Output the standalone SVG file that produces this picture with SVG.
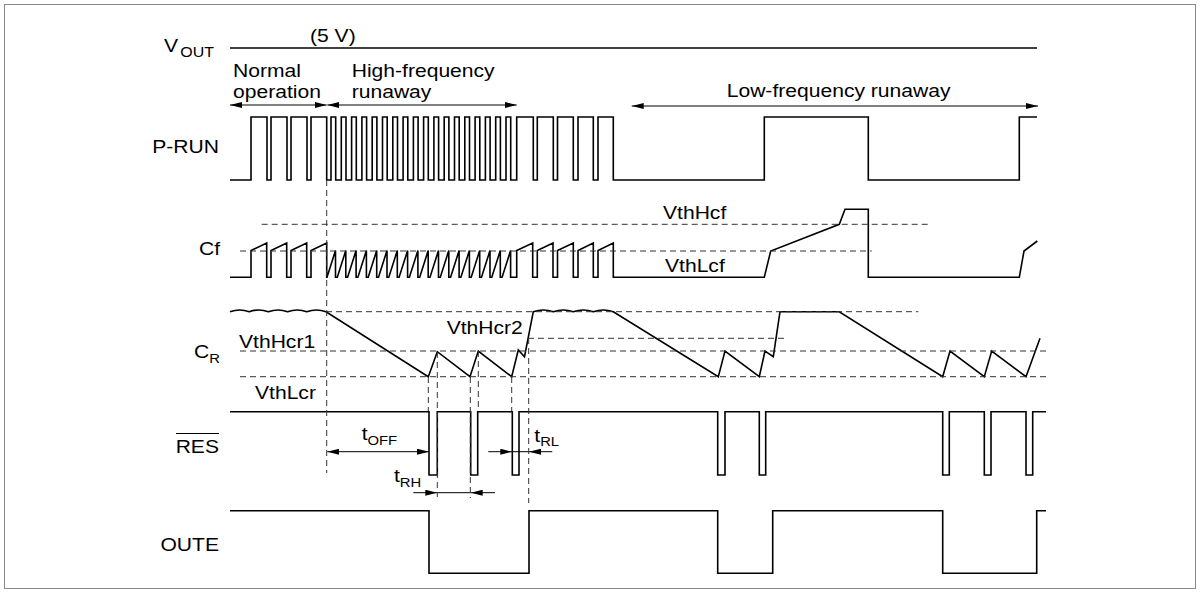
<svg xmlns="http://www.w3.org/2000/svg" width="1200" height="593" viewBox="0 0 1200 593">
<style>
.w{fill:none;stroke:#000;stroke-width:1.6;stroke-linejoin:miter}
.d{fill:none;stroke:#333;stroke-width:1;stroke-dasharray:6 4}
.a{fill:none;stroke:#000;stroke-width:1}
.t{font-family:"Liberation Sans",Arial,Helvetica,sans-serif;font-size:18.5px;fill:#000}
.s{font-size:13px}
</style>
<defs>
<marker id="ah" viewBox="0 0 12 6" refX="12" refY="3" markerWidth="12" markerHeight="6" markerUnits="userSpaceOnUse" orient="auto-start-reverse">
<path d="M0,0 L12,3 L0,6 z" fill="#000"/>
</marker>
</defs>
<rect x="4.5" y="4.5" width="1191" height="584" fill="#fff" stroke="#888" stroke-width="1"/>

<g id="vout">
<text class="t" transform="translate(164,52) scale(1.14,1)">V<tspan style="font-size:14px" dx="2" dy="5">OUT</tspan></text>
<text class="t" transform="translate(310,42) scale(1.14,1)">(5 V)</text>
<path class="w" d="M230,48 H1037"/>
</g>

<g id="phases">
<text class="t" transform="translate(233,77) scale(1.14,1)">Normal</text>
<text class="t" transform="translate(233,97.5) scale(1.14,1)">operation</text>
<text class="t" transform="translate(351.7,77) scale(1.14,1)">High-frequency</text>
<text class="t" transform="translate(351.7,97.5) scale(1.14,1)">runaway</text>
<text class="t" transform="translate(726.7,96.7) scale(1.14,1)">Low-frequency runaway</text>
</g>

<g id="prun">
<text class="t" text-anchor="end" transform="translate(219,153.3) scale(1.14,1)">P-RUN</text>
<path class="w" d="M230,180 H251 V117 H267 V180 H271 V117 H287 V180 H291 V117 H307 V180 H311 V117 H326.7 V180 H331 V117 H335.7 V180 H341.3 V117 H346 V180 H351.6 V117 H356.3 V180 H361.9 V117 H366.6 V180 H372.2 V117 H376.9 V180 H382.5 V117 H387.2 V180 H392.8 V117 H397.5 V180 H403.1 V117 H407.8 V180 H413.4 V117 H418.1 V180 H423.6 V117 H428.3 V180 H433.9 V117 H438.6 V180 H444.2 V117 H448.9 V180 H454.5 V117 H459.2 V180 H464.8 V117 H469.5 V180 H475.1 V117 H479.8 V180 H485.4 V117 H490.1 V180 H495.7 V117 H500.4 V180 H506 V117 H510.7 V180 H516.7 V117 H533.3 V180 H537.3 V117 H553.3 V180 H557.5 V117 H573.3 V180 H578 V117 H593.3 V180 H598 V117 H613.3 V180 H764.3 V117 H868.3 V180 H1019.3 V117 H1037"/>
</g>

<g id="cf">
<text class="t" text-anchor="end" transform="translate(220,255) scale(1.14,1)">Cf</text>
<text class="t" transform="translate(663,219) scale(1.14,1)">VthHcf</text>
<text class="t" transform="translate(665,271.7) scale(1.14,1)">VthLcf</text>
<path class="w" d="M230,277.3 H251 V250.5 L266.7,243 V277.3 H271 V250.5 L286.7,243 V277.3 H291 V250.5 L306.7,243 V277.3 H311 V250.5 L326.7,243 V277.3 H327 L335.5,250.5 V277.3 H337.3 L345.8,250.5 V277.3 H347.6 L356.1,250.5 V277.3 H357.9 L366.4,250.5 V277.3 H368.2 L376.7,250.5 V277.3 H378.5 L387,250.5 V277.3 H388.8 L397.3,250.5 V277.3 H399.1 L407.6,250.5 V277.3 H409.4 L417.9,250.5 V277.3 H419.7 L428.2,250.5 V277.3 H430 L438.5,250.5 V277.3 H440.3 L448.8,250.5 V277.3 H450.6 L459.1,250.5 V277.3 H460.9 L469.4,250.5 V277.3 H471.2 L479.7,250.5 V277.3 H481.5 L490,250.5 V277.3 H491.8 L500.3,250.5 V277.3 H502.1 L510.6,250.5 V277.3 H516.7 V250.5 L532.7,243 V277.3 H537.3 V250.5 L553,243 V277.3 H557.5 V250.5 L573.3,243 V277.3 H578 V250.5 L593.3,243 V277.3 H598 V250.5 L613.3,243 V277.3 H764.3 L770.7,251 L839.3,224.3 L845,209.3 H868.3 V277.3 H1019.3 L1024,251 L1037.3,241"/>
</g>

<g id="cr">
<text class="t" text-anchor="end" transform="translate(220,358) scale(1.14,1)">C<tspan class="s" dy="5">R</tspan></text>
<text class="t" transform="translate(239,347.7) scale(1.14,1)">VthHcr1</text>
<text class="t" transform="translate(446.7,334.3) scale(1.14,1)">VthHcr2</text>
<text class="t" transform="translate(255,399) scale(1.14,1)">VthLcr</text>
<path class="w" d="M230,311.7 q9.6,-3.5 19.2,0 q9.6,-3.5 19.2,0 q9.6,-3.5 19.2,0 q9.6,-3.5 19.2,0 q9.6,-3.5 19.2,0 L428.3,376.7 L437.3,351.7 L470,376.7 L478.3,351 L511.7,376.7 L518.3,350 L524.5,356.7 L533.3,311.7 q10,-3.5 20,0 q10,-3.5 20,0 q10,-3.5 20,0 q10,-3.5 20,0 L718.3,376.7 L725,351 L759.3,376.7 L765,351 L773.3,356.7 L780,311.7 H839.3 L942.7,376.7 L950,351 L984.3,376.7 L991.7,351 L1026,376.7 L1040,338.3"/>
</g>

<g id="res">
<text class="t" text-anchor="end" transform="translate(219,452.7) scale(1.14,1)">RES</text>
<path class="a" d="M176,433.5 H219"/>
<path class="w" d="M230,411.7 H429 V475 H437.3 V411.7 H470.7 V475 H477.7 V411.7 H512.3 V475 H519 V411.7 H717.7 V475 H725 V411.7 H759.3 V475 H765.7 V411.7 H942.7 V475 H949.3 V411.7 H984.3 V475 H991 V411.7 H1026 V475 H1032.7 V411.7 H1046"/>
</g>

<g id="oute">
<text class="t" text-anchor="end" transform="translate(219,550.7) scale(1.14,1)">OUTE</text>
<path class="w" d="M230,510.7 H429 V573.3 H529 V510.7 H717.7 V573.3 H772.7 V510.7 H942.7 V573.3 H1036.7 V510.7 H1046"/>
</g>

<g id="timing-labels">
<text class="t" transform="translate(361.7,440) scale(1.14,1)">t<tspan class="s" dy="5">OFF</tspan></text>
<text class="t" transform="translate(394,481.7) scale(1.14,1)">t<tspan class="s" dy="5">RH</tspan></text>
<text class="t" transform="translate(534.3,441.7) scale(1.14,1)">t<tspan class="s" dy="4">RL</tspan></text>
</g>

<g id="connectors">
<path class="a" d="M230,105 H326.7" marker-start="url(#ah)" marker-end="url(#ah)"/>
<path class="a" d="M327.3,105 H516.7" marker-start="url(#ah)" marker-end="url(#ah)"/>
<path class="a" d="M631.7,106 H1038" marker-start="url(#ah)" marker-end="url(#ah)"/>
<path class="a" d="M327.3,451.7 H429" marker-start="url(#ah)" marker-end="url(#ah)"/>
<path class="a" d="M413.3,492.7 H437.3" marker-end="url(#ah)"/>
<path class="a" d="M495,492.7 H470.7" marker-end="url(#ah)"/>
<path class="a" d="M437.3,492.7 H470.7"/>
<path class="a" d="M488.3,451.7 H512.3" marker-end="url(#ah)"/>
<path class="a" d="M552.3,451.7 H529" marker-end="url(#ah)"/>
<path class="a" d="M512.3,451.7 H529"/>
<path class="d" d="M261.7,224.3 H930"/>
<path class="d" d="M240,251 H871.7"/>
<path class="d" d="M326,311.7 H918.3"/>
<path class="d" d="M528,338.3 H785"/>
<path class="d" d="M240,351 H1046.7"/>
<path class="d" d="M240,376.7 H1046.7"/>
<path class="d" d="M326.7,180 V473"/>
<path class="d" d="M428.3,377 V411"/>
<path class="d" d="M437.3,352 V497"/>
<path class="d" d="M470.3,377 V498"/>
<path class="d" d="M478.3,351 V411"/>
<path class="d" d="M511.7,377 V411"/>
<path class="d" d="M528.7,338 V503"/>
</g>
</svg>
